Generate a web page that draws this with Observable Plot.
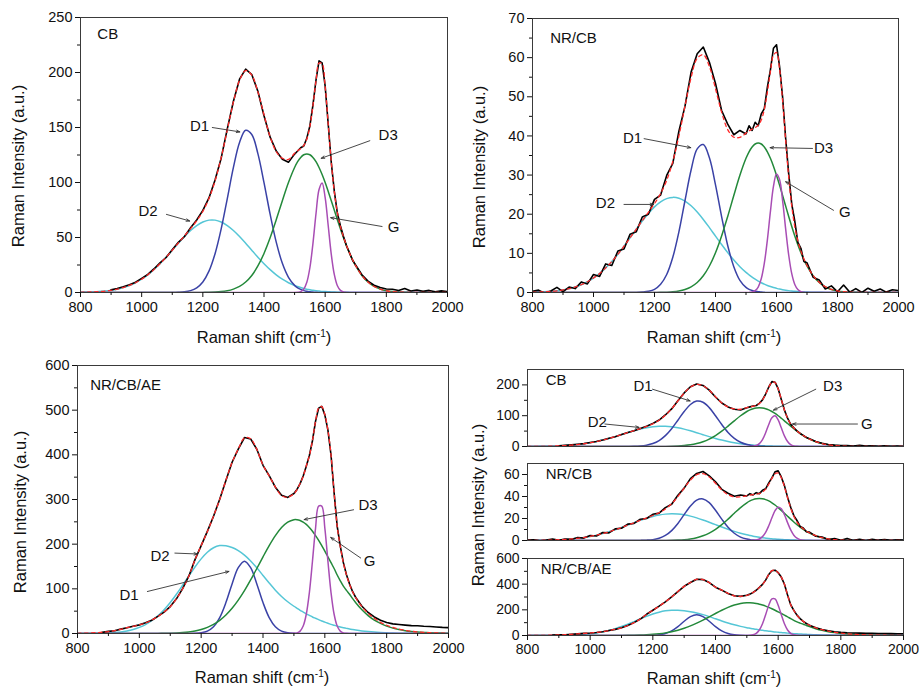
<!DOCTYPE html>
<html><head><meta charset="utf-8">
<script src="https://cdn.jsdelivr.net/npm/d3@7"></script>
<script src="https://cdn.jsdelivr.net/npm/@observablehq/plot@0.6"></script>
<style>
html,body{margin:0;padding:0;background:#fff;}
#root{position:relative;width:919px;height:687px;overflow:hidden;background:#fff;font-family:"Liberation Sans",Arial,sans-serif;color:#111;}
.panel{position:absolute;}
.xt{position:absolute;font-size:16.5px;white-space:nowrap;transform:translate(-50%,-50%);}
.yt{position:absolute;font-size:16.5px;white-space:nowrap;transform:translate(-50%,-50%) rotate(-90deg);}
sup{font-size:10px;vertical-align:6px;line-height:0;}
</style></head><body><div id="root"></div>
<script>
// Raman shift grid (cm-1)
const shift = [800,820,840,860,880,900,920,940,960,980,1000,1020,1040,1060,1080,1100,1120,1140,1160,1180,1200,1220,1240,1260,1280,1300,1320,1340,1360,1380,1400,1420,1440,1460,1480,1500,
 1510,1520,1530,1540,1550,1560,1570,1580,1590,1600,1610,1620,1630,1640,1650,1660,1670,1680,1690,1700,
 1720,1740,1760,1780,1800,1820,1840,1860,1880,1900,1920,1940,1960,1980,2000];

const xMajor = [800,1000,1200,1400,1600,1800,2000];
const xMinor = [900,1100,1300,1500,1700,1900];

// ---- CB ----
const cbD1 = [0,0,0,0,0,0,0,0,0,0,0,0,0,0,0,0,0.2,0.6,1.7,4.3,9.6,19.4,35.3,57.8,85.4,113.7,136.4,147.5,143.7,126.2,99.9,71.2,45.8,26.5,13.8,6.5,
 4.3,2.8,1.7,1.1,0.6,0.4,0.2,0.1,0.1,0,0,0,0,0,0,0,0,0,0,0,
 0,0,0,0,0,0,0,0,0,0,0,0,0,0,0];
const cbD2 = [0.2,0.3,0.5,0.8,1.3,2.0,3.0,4.5,6.4,8.9,12.1,16.1,20.8,26.2,32.1,38.4,44.8,50.9,56.4,60.9,64.1,65.8,65.8,64.1,60.9,56.4,50.9,44.8,38.4,32.1,26.2,20.8,16.1,12.1,8.9,6.4,
 5.4,4.5,3.7,3.0,2.5,2.0,1.6,1.3,1.0,0.8,0.65,0.5,0.4,0.3,0.25,0.2,0.15,0.1,0.1,0.1,
 0,0,0,0,0,0,0,0,0,0,0,0,0,0,0];
const cbD3 = [0,0,0,0,0,0,0,0,0,0,0,0,0,0,0,0,0,0,0,0,0.1,0.2,0.4,0.8,1.6,3.1,5.5,9.5,15.5,24.1,35.5,49.7,66.1,83.4,99.9,113.6,
 118.9,122.8,125.2,126,125.2,122.8,118.9,113.6,107.2,99.9,91.8,83.4,74.7,66.1,57.7,49.7,42.3,35.5,29.5,24.1,
 15.5,9.5,5.5,3.1,1.6,0.8,0.4,0.2,0.1,0,0,0,0,0,0];
const cbG = [0,0,0,0,0,0,0,0,0,0,0,0,0,0,0,0,0,0,0,0,0,0,0,0,0,0,0,0,0,0,0,0,0,0,0,0,
 0.2,0.8,3.1,9.3,22.5,44.5,71.6,93.6,99.6,86.2,60.7,34.7,16.2,6.1,1.9,0.5,0.1,0,0,0,
 0,0,0,0,0,0,0,0,0,0,0,0,0,0,0];
const cbFit = [0.2,0.3,0.5,0.8,1.3,2.0,3.0,4.5,6.4,8.9,12.1,16.1,20.8,26.2,32.1,38.4,45.0,51.5,58.1,65.2,73.8,85.4,101.5,122.7,147.9,173.2,192.8,201.8,197.6,182.4,161.6,141.7,128.0,122.0,121.0,126.5,
 128.8,130.9,133.7,139.4,150.8,169.7,192.3,208.6,207.9,186.9,153.2,118.6,91.3,72.5,59.9,50.4,42.6,35.6,29.6,24.2,
 15.5,9.5,5.5,3.1,1.6,0.8,0.4,0.2,0.1,0,0,0,0,0,0];
const cbMeasured = [null,null,null,null,null,2.4,3.6,5.2,7.1,9.4,12.9,16.4,21.4,26.9,31.8,38.9,45.6,50.9,58.8,65.9,74.6,86.0,102.3,122.1,148.8,173.9,193.9,203.1,198.2,183.0,160.7,141.2,128.6,121.1,118.4,125.8,
 128.6,131.6,133.2,140.3,151.4,170.4,193.1,210.6,208.8,187.6,152.9,118.2,91.9,72.0,60.4,50.9,42.3,35.9,29.1,24.9,
 16.2,10.3,6.6,4.6,3.2,2.9,1.8,3.7,1.4,2.3,1.0,1.9,0.7,1.5,0.9];

// ---- NR/CB ----
const nrD1 = [0,0,0,0,0,0,0,0,0,0,0,0,0,0,0,0,0,0,0.1,0.3,0.8,2.1,4.6,9.0,15.5,23.5,31.3,36.7,37.8,34.4,27.5,19.4,12.0,6.6,3.1,1.3,
 0.8,0.5,0.3,0.2,0.1,0.05,0,0,0,0,0,0,0,0,0,0,0,0,0,0,
 0,0,0,0,0,0,0,0,0,0,0,0,0,0,0];
const nrD2 = [0.07,0.11,0.18,0.29,0.44,0.67,0.98,1.41,1.99,2.74,3.70,4.87,6.29,7.93,9.79,11.83,13.97,16.15,18.27,20.2,21.87,23.15,23.98,24.3,24.09,23.36,22.16,20.57,18.67,16.58,14.41,12.25,10.19,8.29,6.60,5.14,
 4.50,3.91,3.39,2.92,2.50,2.13,1.80,1.52,1.27,1.06,0.87,0.72,0.59,0.48,0.39,0.31,0.25,0.2,0.16,0.13,
 0.08,0.05,0.03,0,0,0,0,0,0,0,0,0,0,0,0];
const nrD3 = [0,0,0,0,0,0,0,0,0,0,0,0,0,0,0,0,0,0,0,0,0.02,0.04,0.09,0.19,0.40,0.78,1.45,2.56,4.27,6.77,10.15,14.43,19.43,24.78,29.95,34.28,
 35.95,37.18,37.94,38.2,37.94,37.18,35.95,34.28,32.26,29.95,27.43,24.78,22.09,19.43,16.86,14.43,12.19,10.15,8.35,6.77,
 4.27,2.56,1.45,0.78,0.40,0.19,0.09,0.04,0.02,0,0,0,0,0,0];
const nrG = [0,0,0,0,0,0,0,0,0,0,0,0,0,0,0,0,0,0,0,0,0,0,0,0,0,0,0,0,0,0,0,0,0,0,0,0,
 0.03,0.14,0.48,1.40,3.50,7.41,13.40,20.64,27.09,30.30,28.88,23.46,16.24,9.58,4.81,2.06,0.75,0.23,0.06,0,
 0,0,0,0,0,0,0,0,0,0,0,0,0,0,0];
const nrFit = [0.07,0.11,0.18,0.29,0.44,0.67,0.98,1.41,1.99,2.74,3.70,4.87,6.29,7.93,9.79,11.83,13.97,16.15,18.36,20.49,22.71,25.27,28.67,33.49,39.99,47.64,54.91,59.83,60.74,57.75,52.06,46.08,41.62,39.67,39.65,40.72,
 41.28,41.73,42.11,42.72,44.04,46.77,51.15,56.44,60.62,61.31,57.18,48.96,38.92,29.49,22.06,16.80,13.19,10.58,8.57,6.90,
 4.35,2.61,1.48,0.78,0.40,0.19,0.09,0.04,0.02,0,0,0,0,0,0];
const nrMeasured = [0.3,0.6,-0.2,0.4,1.3,0.2,1.4,1.0,2.7,2.2,4.6,4.1,7.3,6.9,10.6,11.1,14.9,15.5,19.3,20.0,23.8,24.9,29.9,33.0,41.2,47.6,56.3,61.0,62.7,58.8,53.4,46.5,43.0,40.3,41.4,40.5,
 42.6,41.4,43.5,42.6,45.6,47.0,52.4,56.9,62.4,63.3,57.8,49.9,39.4,30.3,22.6,18.2,12.8,11.3,7.9,7.6,
 3.9,3.2,0.9,1.7,0.2,1.9,0.1,1.0,0.0,1.1,0.3,0.9,0.1,0.7,0.5];

// ---- NR/CB/AE ----
const aeD1 = [0,0,0,0,0,0,0,0,0,0,0,0,0,0,0,0,0,0,0.1,0.4,1.6,5.4,15.2,35.7,69.2,111.0,147.4,162,147.4,111.0,69.2,35.7,15.2,5.4,1.6,0.4,
 0.2,0.1,0,0,0,0,0,0,0,0,0,0,0,0,0,0,0,0,0,0,
 0,0,0,0,0,0,0,0,0,0,0,0,0,0,0];
const aeD2 = [0.1,0.1,0.2,0.4,0.7,1.2,2.1,3.5,5.7,8.9,13.6,20.0,28.6,39.6,53.3,69.5,88.0,108.1,128.8,149.0,167.1,181.8,192.0,196.8,196.3,192.5,185.5,175.5,162.5,147,130,113,97,83,71,61,
 56.5,52,48,44,40.5,37,34,31,28,25.5,23,20.5,18.5,16.5,14.5,13,11.5,10,8.8,7.7,
 5.8,4.3,3.1,2.2,1.5,1.0,0.7,0.5,0.3,0.2,0.1,0.1,0,0,0];
const aeD3 = [0,0,0,0,0,0,0,0,0,0,0,0,0.1,0.2,0.4,0.7,1.2,2.1,3.5,5.7,9.0,13.8,20.5,29.5,41.4,56.4,74.6,95.9,119.9,145.5,171.6,196.7,219.1,237.1,249.3,254.8,
 254.8,253.0,249.3,244.2,237.1,229.0,219.1,208.5,196.7,184.5,171.6,158.5,145.5,131,118,106,96.5,88,78,69,
 53,40,30,22.5,16.5,12,8.8,6.4,4.6,3.3,2.4,1.7,1.2,0.9,0.6];
const aeG = [0,0,0,0,0,0,0,0,0,0,0,0,0,0,0,0,0,0,0,0,0,0,0,0,0,0,0,0,0,0,0,0,0,0,0,0.3,
 1.4,5.4,16.7,43.1,91.7,161.8,236.1,285.2,285.2,236.1,161.8,91.7,43.1,16.7,5.4,1.4,0.3,0,0,0,
 0,0,0,0,0,0,0,0,0,0,0,0,0,0,0];
const aeFit = [0.5,0.8,1.2,1.8,2.8,4.3,6.5,9.5,13,16,19.5,23.5,30,38,48,60,78,100,128,165,197,228,263,300,343,383,413,438,436,412,377,353,328,309,305,313,
 322,336,352,375,398,432,475,505,508,490,455,400,315,240,195,158,131,110,93,80,
 60,45,34,25,18.5,13.5,9.8,7,5,3.6,2.6,1.9,1.4,1.0,0.7];
const aeMeasured = [null,null,null,null,2.6,4.7,6.2,9.8,12.7,16.3,19.3,23.9,29.6,38.4,47.7,60.3,77.6,100.5,128.3,165.4,196.6,228.6,262.6,300.5,342.6,383.4,412.7,438.6,435.6,412.5,376.6,353.3,327.6,309.4,304.7,313.4,
 322.4,335.6,352.5,374.6,398.5,431.6,475.5,504.6,508.6,489.5,455.4,399.6,315.5,239.6,195.4,158.6,131.4,110.6,93.5,80.6,
 61,47,37,29.5,24.5,21.5,20,18.8,17.6,17.2,16.1,15.6,14.6,13.7,13.2];

// Peak annotations (label, label centre, arrow from -> to), in data units
const cbNotes = [
 {label:"D1", tx:1189, ty:151, x1:1231, y1:150, x2:1321, y2:146},
 {label:"D2", tx:1021, ty:74, x1:1081, y1:71, x2:1157, y2:65},
 {label:"D3", tx:1806, ty:143, x1:1746, y1:138, x2:1587, y2:122},
 {label:"G", tx:1824, ty:59, x1:1786, y1:60, x2:1618, y2:68}];
const nrNotes = [
 {label:"D1", tx:1128, ty:39.3, x1:1166, y1:39.3, x2:1319, y2:37},
 {label:"D2", tx:1039, ty:22.7, x1:1100, y1:22.5, x2:1197, y2:22.5},
 {label:"D3", tx:1754, ty:36.9, x1:1718, y1:36.8, x2:1579, y2:37},
 {label:"G", tx:1824, ty:20.6, x1:1787, y1:21, x2:1630, y2:28.3}];
const aeNotes = [
 {label:"D2", tx:1067, ty:172, x1:1115, y1:180, x2:1188, y2:178},
 {label:"D1", tx:967, ty:86, x1:1026, y1:94, x2:1290, y2:139},
 {label:"D3", tx:1740, ty:288, x1:1693, y1:277, x2:1533, y2:255},
 {label:"G", tx:1745, ty:163, x1:1716, y1:169, x2:1619, y2:215}];
const stackCbNotes = [
 {label:"D1", tx:1169, ty:197, x1:1199, y1:186, x2:1319, y2:148},
 {label:"D2", tx:1023, ty:78, x1:1047, y1:73, x2:1156, y2:62},
 {label:"D3", tx:1774, ty:197, x1:1720, y1:186, x2:1585, y2:118},
 {label:"G", tx:1883, ty:73, x1:1853, y1:73, x2:1646, y2:73}];

const FONT = '"Liberation Sans", Arial, sans-serif';
const colors = {D1:"#3a42a6", D2:"#55c6d6", D3:"#23893a", G:"#a84db4", fit:"#ff2a2a", measured:"#000"};

function rows(ys){ return shift.map((x,i)=>({x, y: ys[i]})); }

function makePanel(cfg){
  const s = cfg.series;
  const fs = cfg.tickFont || 14.5;
  const marks = [];
  for (const k of ["D2","D1","D3","G"]) {
    marks.push(Plot.line(rows(s[k]), {x:"x", y:"y", stroke:colors[k], strokeWidth:1.5, curve:"catmull-rom", clip:true}));
  }
  marks.push(Plot.line(rows(s.measured), {x:"x", y:"y", stroke:colors.measured, strokeWidth:1.6, clip:true}));
  marks.push(Plot.line(rows(s.fit), {x:"x", y:"y", stroke:colors.fit, strokeWidth:1.3, strokeDasharray:"3.5,3.5", curve:"catmull-rom", clip:true}));
  marks.push(Plot.frame({stroke:"#3a3a3a", strokeWidth:1}));
  if (cfg.showX) {
    marks.push(Plot.axisX({ticks:xMajor, tickSize:5, tickPadding:4, tickFormat:d=>String(d), label:null, fontSize:fs}));
    marks.push(Plot.axisX({ticks:xMinor, tickSize:3, tickFormat:()=>"", label:null}));
  }
  marks.push(Plot.axisY({ticks:cfg.yMajor, tickSize:5, tickPadding:3, tickFormat:d=>String(d), label:null, fontSize:fs}));
  marks.push(Plot.axisY({ticks:cfg.yMinor, tickSize:3, tickFormat:()=>"", label:null}));
  marks.push(Plot.text([cfg.tag], {x:"x", y:"y", text:"text", textAnchor:"start", fontSize:15, fill:"#111"}));
  if (cfg.notes) {
    marks.push(Plot.arrow(cfg.notes, {x1:"x1", y1:"y1", x2:"x2", y2:"y2", stroke:"#333", strokeWidth:0.9, headLength:6, headAngle:40}));
    marks.push(Plot.text(cfg.notes, {x:"tx", y:"ty", text:"label", fontSize:15, fill:"#111"}));
  }
  const svg = Plot.plot({
    width:cfg.width, height:cfg.height,
    marginTop:cfg.m[0], marginRight:cfg.m[1], marginBottom:cfg.m[2], marginLeft:cfg.m[3],
    x:{domain:[800,2000], axis:null, label:null},
    y:{domain:cfg.yDomain, axis:null, label:null},
    style:{fontFamily:FONT, fontSize:fs + "px", color:"#111", background:"transparent", overflow:"visible"},
    marks
  });
  const wrap = document.createElement("div");
  wrap.className = "panel";
  wrap.style.left = cfg.left + "px";
  wrap.style.top = cfg.top + "px";
  wrap.appendChild(svg);
  document.getElementById("root").appendChild(wrap);
}

const cbSeries = {D1:cbD1, D2:cbD2, D3:cbD3, G:cbG, fit:cbFit, measured:cbMeasured};
const nrSeries = {D1:nrD1, D2:nrD2, D3:nrD3, G:nrG, fit:nrFit, measured:nrMeasured};
const aeSeries = {D1:aeD1, D2:aeD2, D3:aeD3, G:aeG, fit:aeFit, measured:aeMeasured};

// Top-left: CB
makePanel({series:cbSeries, left:0, top:0, width:460, height:350, m:[17,13,58,80], yDomain:[0,250],
  yMajor:[0,50,100,150,200,250], yMinor:[25,75,125,175,225], showX:true,
  tag:{x:855, y:235, text:"CB"}, notes:cbNotes});
// Top-right: NR/CB
makePanel({series:nrSeries, left:460, top:0, width:459, height:350, m:[18,21,58,72], yDomain:[0,70],
  yMajor:[0,10,20,30,40,50,60,70], yMinor:[5,15,25,35,45,55,65], showX:true,
  tag:{x:858, y:64.9, text:"NR/CB"}, notes:nrNotes});
// Bottom-left: NR/CB/AE
makePanel({series:aeSeries, left:0, top:340, width:460, height:347, m:[25,12,54,77], yDomain:[0,600],
  yMajor:[0,100,200,300,400,500,600], yMinor:[50,150,250,350,450,550], showX:true,
  tag:{x:841, y:555, text:"NR/CB/AE"}, notes:aeNotes});
// Bottom-right: stacked
makePanel({series:cbSeries, left:460, top:360, width:459, height:90, m:[9,16,4,67], yDomain:[0,250],
  yMajor:[0,100,200], yMinor:[50,150], showX:false, tickFont:14,
  tag:{x:858, y:215, text:"CB"}, notes:stackCbNotes});
makePanel({series:nrSeries, left:460, top:455, width:459, height:90, m:[8,16,5,67], yDomain:[0,70],
  yMajor:[0,20,40,60], yMinor:[10,30,50], showX:false, tickFont:14,
  tag:{x:858, y:60, text:"NR/CB"}, notes:null});
makePanel({series:aeSeries, left:460, top:550, width:459, height:137, m:[8,16,52,67], yDomain:[0,600],
  yMajor:[0,200,400,600], yMinor:[100,300,500], showX:true, tickFont:14,
  tag:{x:842, y:514, text:"NR/CB/AE"}, notes:null});

// Axis titles
const xTitles = [[264,337],[714,337],[262,677],[714,678]];
const yTitles = [[18,166],[479,167],[20,512],[478,505]];
const root = document.getElementById("root");
for (const [x,y] of xTitles) {
  const d = document.createElement("div"); d.className = "xt";
  d.style.left = x + "px"; d.style.top = y + "px";
  d.innerHTML = "Raman shift (cm<sup>-1</sup>)";
  root.appendChild(d);
}
for (const [x,y] of yTitles) {
  const d = document.createElement("div"); d.className = "yt";
  d.style.left = x + "px"; d.style.top = y + "px";
  d.textContent = "Raman Intensity (a.u.)";
  root.appendChild(d);
}
</script></body></html>
